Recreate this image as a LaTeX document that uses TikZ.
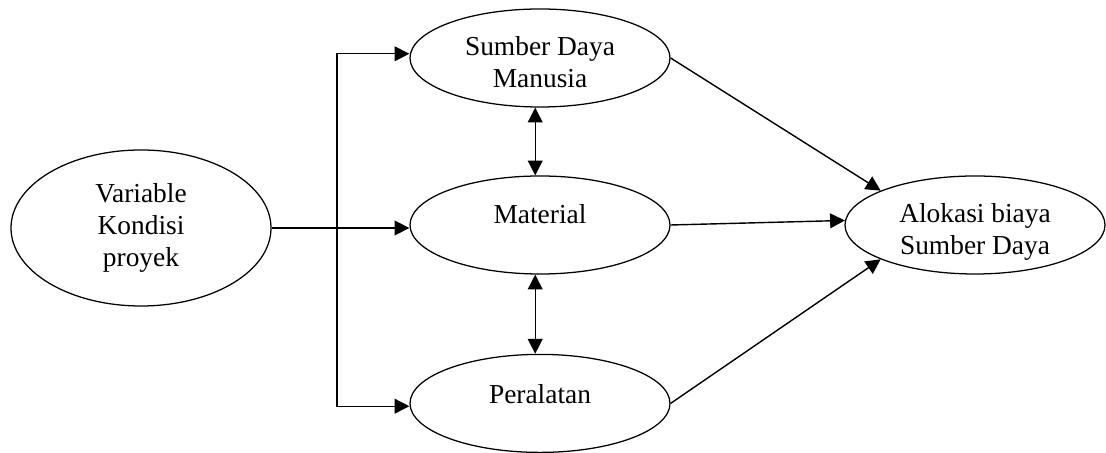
\documentclass[tikz,border=0pt]{standalone}
\usepackage{fontspec}
\setmainfont{Liberation Serif}
\usetikzlibrary{arrows.meta, positioning, shapes.geometric}

% text moved up or down inside an oval, keeping its box size
\newcommand{\shiftto}[2]{\raisebox{#1}[\height][\depth]{#2}}
\newcommand{\twolines}[3]{\shiftto{#1}{\begin{tabular}{@{}c@{}}#2\\#3\end{tabular}}}

\begin{document}
\begin{tikzpicture}[
    oval/.style={draw, line width=0.9pt, ellipse, minimum width=6.5cm,
                 minimum height=2.45cm, inner sep=0pt, align=center,
                 font=\fontsize{19.5}{22.5}\selectfont},
    arr/.style={-{Triangle[length=0.37cm, width=0.37cm]}, line width=1pt},
    both/.style={{Triangle[length=0.37cm, width=0.37cm]}-{Triangle[length=0.37cm, width=0.37cm]}, line width=1pt},
]
\useasboundingbox (0, 0) rectangle (27.65, 11.325);

% ===================== NODES =====================
\node[oval, minimum height=3.9cm] (var) at (3.525, 5.625)
    {Variable\\Kondisi\\proyek};

\node[oval] (sdm) at (13.5, 9.875) {\twolines{-5pt}{Sumber Daya}{Manusia}};
\node[oval] (mat) at (13.5, 5.7) {\shiftto{7.5pt}{Material}};
\node[oval] (alat) at (13.5, 1.24) {\shiftto{6.5pt}{Peralatan}};

\node[oval] (biaya) at (24.375, 5.7) {\twolines{-5pt}{Alokasi biaya}{Sumber Daya}};

% ===================== CONNECTORS =====================
% split from the project conditions into the three resources
\coordinate (jn) at (8.425, 5.625);
\draw[arr] (var.east) -- (var.east -| mat.west);
\draw[arr] (jn) |- ([yshift=3pt]sdm.west);
\draw[arr] (jn) |- ([yshift=-2pt]alat.west);

% links between the resources
\draw[both] ([xshift=-0.12cm]sdm.south) -- ([xshift=-0.12cm]mat.north);
\draw[both] ([xshift=-0.12cm]mat.south) -- ([xshift=-0.12cm]alat.north);

% resources into the cost allocation
\draw[arr] (sdm.east) -- (biaya.160);
\draw[arr] (mat.east) -- (biaya.178);
\draw[arr] (alat.east) -- (biaya.200);

\end{tikzpicture}
\end{document}
